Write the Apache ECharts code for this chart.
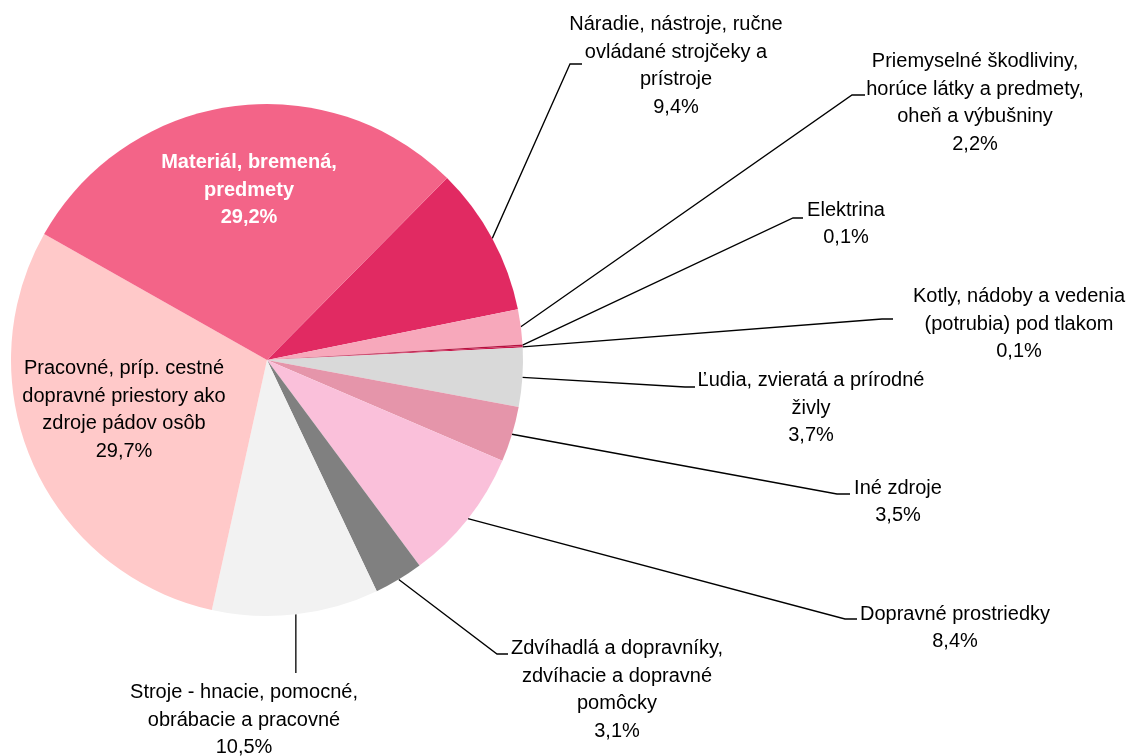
<!DOCTYPE html>
<html>
<head>
<meta charset="utf-8">
<script src="https://cdn.jsdelivr.net/npm/echarts@6/dist/echarts.min.js"></script>
<style>
html,body{margin:0;padding:0;background:#fff;}
#c{width:1127px;height:756px;}
</style>
</head>
<body>
<div id="c"></div>
<script>
// ---- data ----
var categories = [
  'Náradie, nástroje, ručne\novládané strojčeky a\nprístroje',
  'Priemyselné škodliviny,\nhorúce látky a predmety,\noheň a výbušniny',
  'Elektrina',
  'Kotly, nádoby a vedenia\n(potrubia) pod tlakom',
  'Ľudia, zvieratá a prírodné\nživly',
  'Iné zdroje',
  'Dopravné prostriedky',
  'Zdvíhadlá a dopravníky,\nzdvíhacie a dopravné\npomôcky',
  'Stroje - hnacie, pomocné,\nobrábacie a pracovné',
  'Pracovné, príp. cestné\ndopravné priestory ako\nzdroje pádov osôb',
  'Materiál, bremená,\npredmety'
];
var values = [9.4, 2.2, 0.1, 0.1, 3.7, 3.5, 8.4, 3.1, 10.5, 29.7, 29.2];

// ---- styles / layout ----
var colors = ['#E12A62', '#F7A8BB', '#B5123F', '#C8194C', '#D9D9D9', '#E595AA',
              '#FAC0DA', '#808080', '#F2F2F2', '#FFC9C9', '#F36488'];
var insideLabel = [false, false, false, false, false, false, false, false, false, true, true];
var labelCenters = [[676, 66], [975, 103], [846, 224], [1019, 324], [811, 408], [898, 502],
                    [955, 628], [617, 690], [244, 720], [124, 410], [249, 190]];
var elbows = [[570, 64, 582], [852, 95, 865], [793, 218, 803], [882, 319, 893], [685, 387, 695],
              [837, 494, 850], [845, 619, 857], [497, 654, 508], [null, 673, null], null, null];

function fmt(v) { return v.toFixed(1).replace('.', ',') + '%'; }

var data = categories.map(function (name, i) {
  var item = { name: name, value: values[i], itemStyle: { color: colors[i] } };
  if (insideLabel[i]) {
    item.label = { position: 'inside', color: i === 10 ? '#ffffff' : '#000000',
                   fontWeight: i === 10 ? 'bold' : 'normal' };
    item.labelLine = { show: false };
  }
  return item;
});

var chart = echarts.init(document.getElementById('c'), null, { renderer: 'canvas' });
chart.setOption({
  animation: false,
  backgroundColor: '#ffffff',
  series: [{
    type: 'pie',
    center: [267, 360],
    radius: 256,
    startAngle: 45.3,
    clockwise: true,
    avoidLabelOverlap: false,
    data: data,
    itemStyle: { borderWidth: 0 },
    label: {
      show: true,
      position: 'outside',
      formatter: function (p) { return p.name + '\n' + fmt(p.value); },
      fontFamily: 'Liberation Sans, Arial, sans-serif',
      fontSize: 20,
      lineHeight: 27.5,
      color: '#000000',
      align: 'center'
    },
    labelLine: {
      show: true,
      length: 20,
      length2: 10,
      lineStyle: { color: '#000000', width: 1.3 }
    },
    labelLayout: function (params) {
      var i = params.dataIndex;
      var c = labelCenters[i];
      var res = { x: c[0], y: c[1], align: 'center', verticalAlign: 'middle' };
      var e = elbows[i];
      if (e && params.labelLinePoints) {
        var s = params.labelLinePoints[0];
        var ex = e[0] == null ? s[0] : e[0];
        var endX = e[2] == null ? ex : e[2];
        res.labelLinePoints = [[s[0], s[1]], [ex, e[1]], [endX, e[1]]];
      }
      return res;
    }
  }]
});
</script>
</body>
</html>
